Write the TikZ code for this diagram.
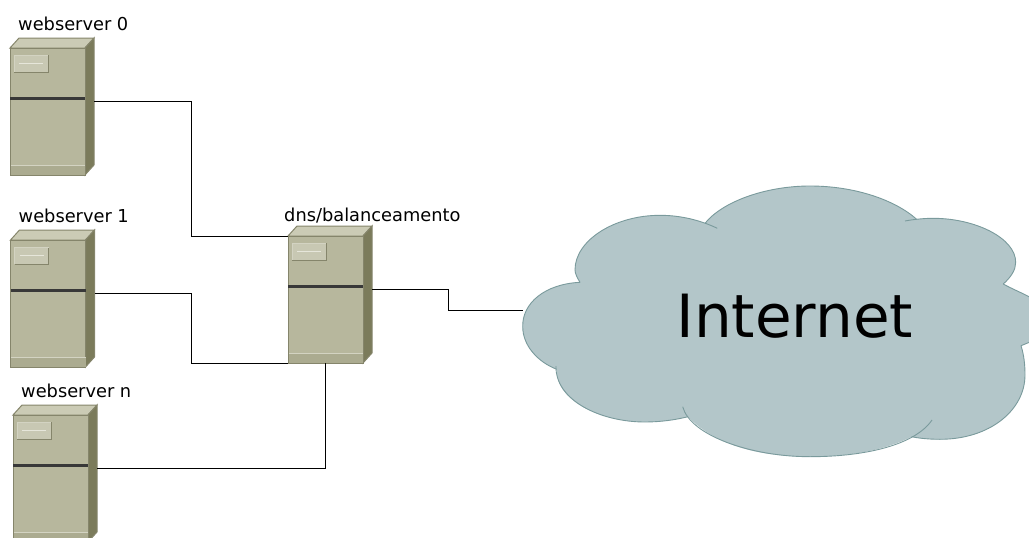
\documentclass[tikz,border=0pt]{standalone}
\usepackage{fontspec}
\setmainfont{DejaVu Sans}
\definecolor{srvfront}{HTML}{B7B79D}
\definecolor{srvside}{HTML}{7B7B5B}
\definecolor{srvtop}{HTML}{CBCBB5}
\definecolor{srvedge}{HTML}{85856B}
\definecolor{srvlight}{HTML}{D3D3C2}
\definecolor{srvpale}{HTML}{E6E6DA}
\definecolor{srvband}{HTML}{ABAB90}
\definecolor{cloudfill}{HTML}{B3C6C9}
\definecolor{cloudedge}{HTML}{7A9A9C}
\tikzset{
  link/.style={draw=black,line width=0.8pt},
  srvlabel/.style={font=\fontsize{17.8}{21}\selectfont,inner sep=0pt,anchor=base west},
  cloudline/.style={draw=cloudedge,line width=0.9pt},
  server/.pic={
    \fill[srvtop,draw=srvedge,line width=1pt] (0,0) -- (9,-10) -- (84,-10) -- (75,0) -- cycle;
    \fill[srvside,draw=srvedge,line width=1pt] (75,0) -- (84,-10) -- (84,117) -- (75,127) -- cycle;
    \node[minimum width=75pt,minimum height=127pt,inner sep=0pt,outer sep=0pt,anchor=north west,
      fill=srvfront,draw=srvedge,line width=1pt] (-front) at (0,0) {};
    \fill[srvband] (0,117) rectangle (75,127);
    \draw[srvlight,line width=0.8pt] (0,117) -- (75,117);
    \draw[srvedge,line width=1pt] (0,127) -- (75,127) (0,117) -- (0,127);
    \draw[black!78,line width=2.2pt] (0,50.5) -- (75,50.5);
    \fill[srvlight!60!srvfront] (4,7) rectangle (38,24);
    \draw[srvedge,line width=1pt] (38,7) -- (38,24) -- (4,24);
    \draw[srvlight,line width=1pt] (4,24) -- (4,7) -- (38,7);
    \draw[srvpale,line width=0.8pt] (9,15) -- (33,15);
    \coordinate (-port) at (84,\portdrop);
  }
}
\def\portdrop{53}
\begin{document}
\begin{tikzpicture}[x=1pt,y=-1pt]
\useasboundingbox (0,0) rectangle (1029,538);
\clip (0,0) rectangle (1029,538);

\pic (s0) at (10,48) {server};
\pic (s1) at (10.5,240) {server};
\pic (sn) at (13,415) {server};
\pic (dns) at (288,236) {server};

\node[srvlabel] (l0) at (18,30.7) {webserver 0};
\node[srvlabel] (l1) at (18.5,222.5) {webserver 1};
\node[srvlabel] (ln) at (21,397.5) {webserver n};
\node[srvlabel] (ld) at (284,221) {dns/balanceamento};

% cloud
\fill[cloudfill] (580,282.3)
  .. controls (545,284) and (522,303) .. (522.7,327)
  .. controls (523,346) and (538,362) .. (556.7,369.3)
  .. controls (555,400) and (600,422) .. (645,422)
  .. controls (660,422) and (675,420) .. (688,416.7)
  .. controls (720,450) and (770,456.7) .. (810,456.7)
  .. controls (850,456.7) and (885,450) .. (911.7,436.7)
  .. controls (920,438.5) and (930,439.3) .. (940,439.3)
  .. controls (990,439.3) and (1025,410) .. (1025,375)
  .. controls (1025,365) and (1024,355) .. (1021,345.7)
  -- (1035,340) -- (1035,300)
  .. controls (1025,294) and (1012,289) .. (1003.3,284)
  .. controls (1011,277) and (1015.7,270) .. (1015.7,262.3)
  .. controls (1015.7,238) and (975,218.3) .. (933.3,218.3)
  .. controls (927,218.3) and (922,218.6) .. (916.7,219.3)
  .. controls (895,200) and (855,186) .. (810,186)
  .. controls (765,186) and (722,202) .. (705,223.3)
  .. controls (692,218) and (676,215.3) .. (660,215.3)
  .. controls (615,215.3) and (575,240) .. (575,270)
  .. controls (575,274) and (578,279) .. (580,282.3) -- cycle;
\draw[cloudline] (580,282.3) .. controls (545,284) and (522,303) .. (522.7,327) .. controls (523,346) and (538,362) .. (556.7,369.3);
\draw[cloudline] (556,366) .. controls (555,400) and (600,422) .. (645,422) .. controls (660,422) and (675,420) .. (688,416.7);
\draw[cloudline] (682.7,406.7) .. controls (690,435) and (750,456.7) .. (810,456.7) .. controls (865,456.7) and (915,445) .. (932,420);
\draw[cloudline] (911.7,436.7) .. controls (920,438.5) and (930,439.3) .. (940,439.3) .. controls (990,439.3) and (1025,410) .. (1025,375) .. controls (1025,365) and (1024,355) .. (1021,345.7);
\draw[cloudline] (1021,345.7) -- (1035,340);
\draw[cloudline] (1035,300) .. controls (1025,294) and (1012,289) .. (1003.3,284);
\draw[cloudline] (1003.3,284) .. controls (1011,277) and (1015.7,270) .. (1015.7,262.3) .. controls (1015.7,238) and (975,218.3) .. (933.3,218.3) .. controls (923,218.3) and (913,219.5) .. (905,221);
\draw[cloudline] (916.7,219.3) .. controls (895,200) and (855,186) .. (810,186) .. controls (765,186) and (722,202) .. (705,223.3);
\draw[cloudline] (717.3,228.3) .. controls (700,220) and (680,215.3) .. (660,215.3) .. controls (615,215.3) and (575,240) .. (575,270) .. controls (575,274) and (578,279) .. (580,282.3);
\coordinate (cloudport) at (523,310);
\node[font=\fontsize{59.6}{70}\selectfont,inner sep=0pt,anchor=base west] (inet) at (676.3,337) {Internet};

% connectors
\draw[link] (s0-port) -- ++(97.3,0) |- (dns-front.north west);
\draw[link] (s1-port) -- ++(97,0) |- (dns-front.south west);
\draw[link] (sn-port) -| (dns-front.south);
\draw[link] (dns-port) -- ++(76,0) |- (cloudport);
\end{tikzpicture}
\end{document}
